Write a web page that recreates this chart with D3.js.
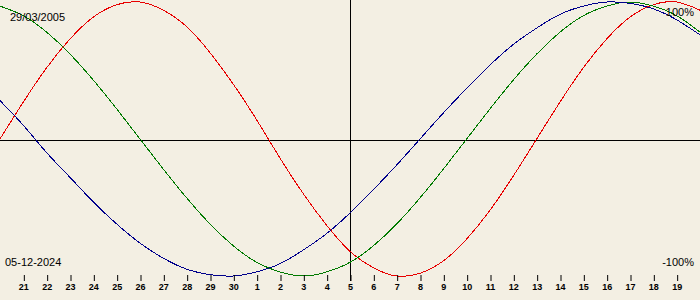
<!DOCTYPE html>
<html>
<head>
<meta charset="utf-8">
<script src="https://cdn.jsdelivr.net/npm/d3@7"></script>
<style>
  body { margin: 0; background: #f3efe3; }
  svg { display: block; }
</style>
</head>
<body>
<div id="chart"></div>
<script>
// days shown: 20 Nov 2024 .. 20 Dec 2024, centre 05-12-2024
var dayLabels = ["20", "21", "22", "23", "24", "25", "26", "27", "28", "29", "30",
    "1", "2", "3", "4", "5", "6", "7", "8", "9", "10",
    "11", "12", "13", "14", "15", "16", "17", "18", "19", "20"];

// percent values, one per day
var physical = [0, 27, 52, 73, 89, 98, 100, 94, 82, 63, 40, 14, -14, -40, -63, -82,
    -94, -100, -98, -89, -73, -52, -27, 0, 27, 52, 73, 89, 98, 100, 94];
var emotional = [97, 90, 78, 62, 43, 22, 0, -22, -43, -62, -78, -90, -97, -100, -97, -90,
    -78, -62, -43, -22, 0, 22, 43, 62, 78, 90, 97, 100, 97, 90, 78];
var intellectual = [28, 10, -10, -28, -46, -62, -76, -87, -95, -99, -100, -97, -91, -81, -69, -54,
    -37, -19, 0, 19, 37, 54, 69, 81, 91, 97, 100, 99, 95, 87, 76];

var birthDate = "29/03/2005";
var centreDate = "05-12-2024";

function init() {
    var w = 700;
    var h = 300;

    var x = d3.scaleLinear().domain([0, dayLabels.length - 1]).range([0, w]);
    var y = d3.scaleLinear().domain([-100, 100]).range([276, 2]);

    var svg = d3.select("#chart")
        .append("svg")
        .attr("width", w)
        .attr("height", h);

    svg.append("rect")
        .attr("width", w)
        .attr("height", h)
        .attr("fill", "#f3efe3");

    // cross lines
    var mid = Math.floor((dayLabels.length - 1) / 2);
    svg.append("line")
        .attr("x1", 0).attr("x2", w)
        .attr("y1", y(0) + 1.5).attr("y2", y(0) + 1.5)
        .attr("stroke", "#000");
    svg.append("line")
        .attr("x1", x(mid) + 0.5).attr("x2", x(mid) + 0.5)
        .attr("y1", 0).attr("y2", 281)
        .attr("stroke", "#000");

    var line = d3.line()
        .x(function(d, i) { return x(i); })
        .y(function(d) { return y(d); })
        .curve(d3.curveNatural);

    var series = [
        { values: physical, color: "#e80000" },
        { values: emotional, color: "#007a00" },
        { values: intellectual, color: "#00008c" }
    ];

    svg.selectAll("path.bio")
        .data(series)
        .enter()
        .append("path")
        .attr("class", "bio")
        .attr("d", function(d) { return line(d.values); })
        .attr("fill", "none")
        .attr("stroke", function(d) { return d.color; })
        .attr("stroke-width", 1)
        .attr("shape-rendering", "crispEdges");

    // day axis
    var axis = d3.axisBottom(x)
        .tickValues(d3.range(1, dayLabels.length - 1))
        .tickFormat(function(d) { return dayLabels[d]; })
        .tickSize(6)
        .tickPadding(3);

    var g = svg.append("g")
        .attr("transform", "translate(0,275)")
        .call(axis);
    g.select(".domain").remove();
    g.selectAll(".tick line").attr("stroke", "#000").attr("transform", "translate(0.5,0)");
    g.selectAll(".tick text")
        .attr("fill", "#000")
        .style("font-family", "'Liberation Sans', Arial, sans-serif")
        .style("font-size", "9px")
        .style("font-weight", "bold");

    var labelFont = "'Liberation Sans', Arial, sans-serif";
    svg.append("text").attr("x", 10).attr("y", 21).text(birthDate)
        .style("font-family", labelFont).style("font-size", "11px");
    svg.append("text").attr("x", 5).attr("y", 266).text(centreDate)
        .style("font-family", labelFont).style("font-size", "11px");
    svg.append("text").attr("x", 694).attr("y", 16).attr("text-anchor", "end").text("100%")
        .style("font-family", labelFont).style("font-size", "11px");
    svg.append("text").attr("x", 694).attr("y", 266).attr("text-anchor", "end").text("-100%")
        .style("font-family", labelFont).style("font-size", "11px");
}

window.onload = init;
</script>
</body>
</html>
